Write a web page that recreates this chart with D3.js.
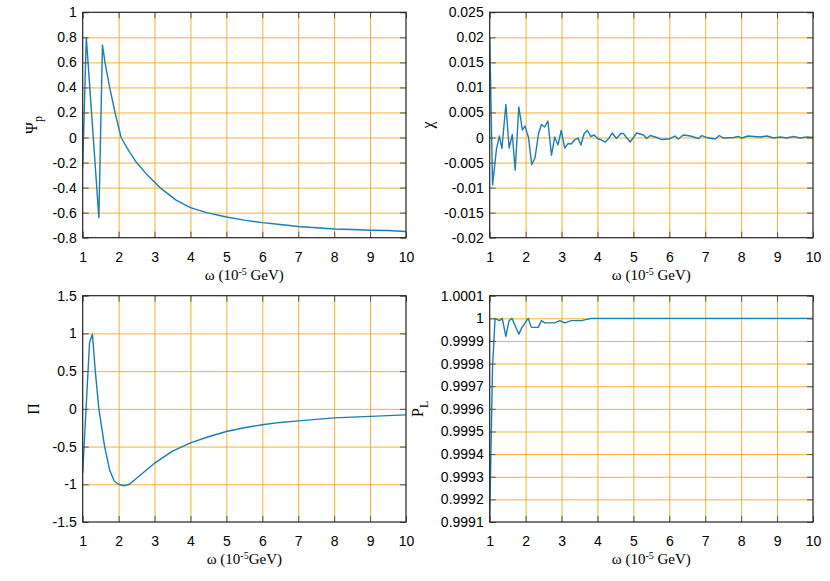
<!DOCTYPE html>
<html>
<head>
<meta charset="utf-8">
<script src="https://cdn.jsdelivr.net/npm/d3@7"></script>
<style>
  html, body { margin: 0; padding: 0; background: #fff; }
  svg { display: block; }
  .tick text { font-family: "Liberation Sans", Arial, sans-serif; font-size: 14px; fill: #000; }
  .title { font-family: "Liberation Serif", "Times New Roman", serif; font-size: 15px; fill: #000; }
</style>
</head>
<body>
<script>
// omega axis (10^-5 GeV)
const xTicks = [1, 2, 3, 4, 5, 6, 7, 8, 9, 10];

// Psi_p
const omegaPsi = [1.0, 1.1, 1.45, 1.55, 1.62, 1.75, 1.9, 2.07, 2.27, 2.5, 2.8, 3.15, 3.6, 4.0, 4.45, 5.0, 5.5, 6.0, 6.5, 7.0, 7.5, 8.0, 8.5, 9.0, 9.5, 10.0];
const psiP = [-0.24, 0.80, -0.64, 0.74, 0.60, 0.40, 0.20, 0.0, -0.10, -0.20, -0.30, -0.40, -0.50, -0.56, -0.60, -0.635, -0.66, -0.68, -0.695, -0.71, -0.72, -0.73, -0.735, -0.74, -0.743, -0.75];
const psiTicks = [-0.8, -0.6, -0.4, -0.2, 0, 0.2, 0.4, 0.6, 0.8, 1];
const psiTickLabels = ["-0.8", "-0.6", "-0.4", "-0.2", "0", "0.2", "0.4", "0.6", "0.8", "1"];

// chi
const omegaChi = [1.0, 1.08, 1.19, 1.27, 1.34, 1.45, 1.54, 1.63, 1.71, 1.81, 1.91, 1.98, 2.08, 2.17, 2.26, 2.36, 2.44, 2.53, 2.62, 2.72, 2.81, 2.90, 2.99, 3.09, 3.18, 3.27, 3.37, 3.46, 3.54, 3.63, 3.72, 3.81, 3.91, 4.0, 4.11, 4.22, 4.31, 4.41, 4.53, 4.65, 4.72, 4.91, 5.09, 5.28, 5.37, 5.47, 5.65, 5.79, 5.98, 6.16, 6.25, 6.39, 6.58, 6.81, 6.91, 7.04, 7.28, 7.39, 7.51, 7.79, 7.92, 8.02, 8.19, 8.53, 8.72, 8.90, 9.09, 9.27, 9.46, 9.64, 9.83, 10.0];
const chi = [0.020, -0.0095, -0.0022, 0.0003, -0.0022, 0.0066, -0.0021, 0.0006, -0.0065, 0.0061, 0.0015, 0.0023, 0.0, -0.0054, -0.0041, 0.0008, 0.0026, 0.0021, 0.0033, -0.0035, 0.0001, -0.0015, 0.0014, -0.0021, -0.0012, -0.0013, -0.0004, -0.0001, -0.0015, 0.0008, 0.0014, 0.0002, 0.0005, -0.0002, -0.0005, -0.0009, -0.0002, 0.0009, -0.0002, 0.0008, 0.0008, -0.0009, 0.0009, 0.0005, -0.0002, 0.0004, 0.0, -0.0004, -0.0003, 0.0003, -0.0003, 0.0005, 0.0003, -0.0002, 0.0004, 0.0, -0.0003, 0.0004, -0.0001, 0.0, 0.0002, -0.0001, 0.0003, 0.0001, 0.0003, -0.0001, 0.0001, -0.0001, 0.0002, -0.0001, 0.0001, 0.0];
const chiTicks = [-0.02, -0.015, -0.01, -0.005, 0, 0.005, 0.01, 0.015, 0.02, 0.025];
const chiTickLabels = ["-0.02", "-0.015", "-0.01", "-0.005", "0", "0.005", "0.01", "0.015", "0.02", "0.025"];

// Pi
const omegaPi = [1.0, 1.19, 1.27, 1.35, 1.45, 1.61, 1.75, 1.88, 2.0, 2.14, 2.3, 2.5, 2.75, 3.0, 3.5, 4.0, 4.5, 5.0, 5.5, 6.0, 6.5, 7.0, 8.0, 9.0, 10.0];
const piVals = [-0.85, 0.88, 0.99, 0.5, 0.0, -0.5, -0.81, -0.96, -1.0, -1.02, -1.0, -0.92, -0.82, -0.72, -0.56, -0.45, -0.37, -0.30, -0.25, -0.21, -0.18, -0.16, -0.12, -0.10, -0.08];
const piTicks = [-1.5, -1, -0.5, 0, 0.5, 1, 1.5];
const piTickLabels = ["-1.5", "-1", "-0.5", "0", "0.5", "1", "1.5"];

// P_L
const omegaPL = [1.0, 1.08, 1.15, 1.27, 1.35, 1.45, 1.54, 1.62, 1.81, 1.90, 2.07, 2.16, 2.25, 2.35, 2.44, 2.53, 2.67, 2.81, 2.95, 3.09, 3.27, 3.55, 3.83, 4.5, 6.0, 8.0, 10.0];
const pL = [0.99912, 0.99979, 1.0, 0.99999, 1.0, 0.99992, 0.99999, 1.0, 0.99993, 0.99996, 1.0, 0.99996, 0.99996, 0.99996, 0.99999, 0.99998, 0.99998, 0.99998, 0.99999, 0.99998, 0.99999, 0.99999, 1.0, 1.0, 1.0, 1.0, 1.0];
const plTicks = [0.9991, 0.9992, 0.9993, 0.9994, 0.9995, 0.9996, 0.9997, 0.9998, 0.9999, 1.0, 1.0001];
const plTickLabels = ["0.9991", "0.9992", "0.9993", "0.9994", "0.9995", "0.9996", "0.9997", "0.9998", "0.9999", "1", "1.0001"];

const width = 830, height = 581;
const lineColor = "#1a7db3";
const gridColor = "#f2b233";

const panels = [
  { xs: omegaPsi, ys: psiP, yDomain: [-0.8, 1], yTicks: psiTicks, yLabels: psiTickLabels,
    left: 82.7, right: 406, top: 12.3, bottom: 237.7, yName: "Ψ", ySub: "p", yOff: -46, space: true },
  { xs: omegaChi, ys: chi, yDomain: [-0.02, 0.025], yTicks: chiTicks, yLabels: chiTickLabels,
    left: 489.7, right: 813, top: 12.3, bottom: 237.7, yName: "χ", ySub: null, yOff: -57, space: true },
  { xs: omegaPi, ys: piVals, yDomain: [-1.5, 1.5], yTicks: piTicks, yLabels: piTickLabels,
    left: 82.7, right: 406, top: 295.7, bottom: 522, yName: "Π", ySub: null, yOff: -44, space: false },
  { xs: omegaPL, ys: pL, yDomain: [0.9991, 1.0001], yTicks: plTicks, yLabels: plTickLabels,
    left: 489.7, right: 813, top: 295.7, bottom: 522, yName: "P", ySub: "L", yOff: -67, space: true }
];

const svg = d3.select("body").append("svg")
  .attr("width", width)
  .attr("height", height);

panels.forEach((p, i) => {
  const w = p.right - p.left, h = p.bottom - p.top;
  const x = d3.scaleLinear().domain([1, 10]).range([0, w]);
  const y = d3.scaleLinear().domain(p.yDomain).range([h, 0]);

  const g = svg.append("g").attr("transform", `translate(${p.left},${p.top})`);

  // grid
  const gx = g.append("g").attr("transform", `translate(0,${h})`)
    .call(d3.axisBottom(x).tickValues(xTicks.slice(1, -1)).tickSize(-h).tickFormat(""));
  const gy = g.append("g")
    .call(d3.axisLeft(y).tickValues(p.yTicks.slice(1, -1)).tickSize(-w).tickFormat(""));
  [gx, gy].forEach(a => {
    a.select(".domain").remove();
    a.selectAll("line").attr("stroke", gridColor).attr("stroke-width", 1);
  });

  // data line
  g.append("clipPath").attr("id", "clip" + i)
    .append("rect").attr("width", w).attr("height", h);
  const line = d3.line().x((d, j) => x(p.xs[j])).y(d => y(d));
  g.append("path")
    .datum(p.ys)
    .attr("clip-path", `url(#clip${i})`)
    .attr("fill", "none")
    .attr("stroke", lineColor)
    .attr("stroke-width", 1.4)
    .attr("stroke-linejoin", "round")
    .attr("d", line);

  // axes with inward ticks
  const ax = [
    g.append("g").attr("transform", `translate(0,${h})`)
      .call(d3.axisBottom(x).tickValues(xTicks).tickSize(-6).tickPadding(14).tickFormat(d3.format("d"))),
    g.append("g")
      .call(d3.axisTop(x).tickValues(xTicks).tickSize(-6).tickFormat("")),
    g.append("g")
      .call(d3.axisLeft(y).tickValues(p.yTicks).tickSize(-6).tickPadding(6).tickFormat((d, j) => p.yLabels[j])),
    g.append("g").attr("transform", `translate(${w},0)`)
      .call(d3.axisRight(y).tickValues(p.yTicks).tickSize(-6).tickFormat(""))
  ];
  ax.forEach(a => {
    a.select(".domain").remove();
    a.selectAll("line").attr("stroke", "#555").attr("stroke-width", 1);
    a.selectAll("text").attr("fill", "#000");
  });

  // frame
  g.append("rect")
    .attr("width", w).attr("height", h)
    .attr("fill", "none").attr("stroke", "#222").attr("stroke-width", 1.2);

  // x title
  const xt = svg.append("text").attr("class", "title")
    .attr("x", p.left + w / 2).attr("y", p.bottom + 42)
    .attr("text-anchor", "middle");
  xt.append("tspan").text("ω (10");
  xt.append("tspan").attr("dy", -5).attr("font-size", "10px").text("-5");
  xt.append("tspan").attr("dy", 5).text(p.space ? " GeV)" : "GeV)");

  // y title
  const yt = svg.append("text").attr("class", "title")
    .attr("transform", `translate(${p.left + p.yOff},${p.top + h / 2}) rotate(-90)`)
    .attr("text-anchor", "middle");
  yt.append("tspan").attr("font-size", "16px").text(p.yName);
  if (p.ySub) yt.append("tspan").attr("dy", 5).attr("font-size", "12px").text(p.ySub);
});
</script>
</body>
</html>
